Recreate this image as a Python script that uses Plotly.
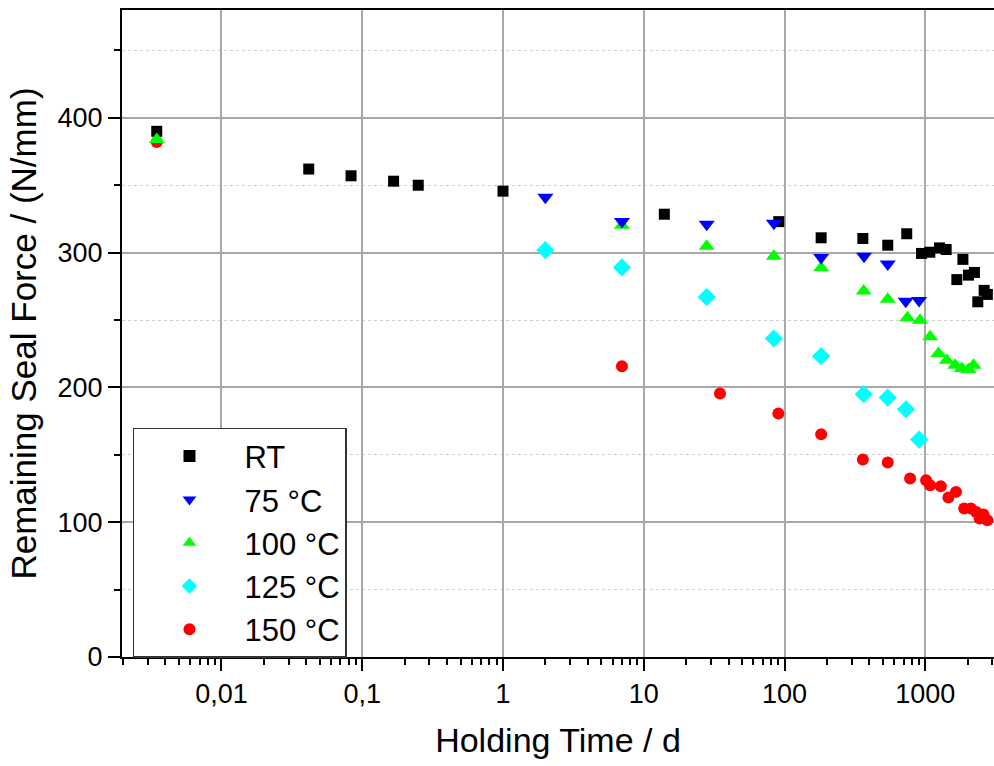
import plotly.graph_objects as go

# ---- data (holding time in days, remaining seal force in N/mm) ----
rt_t = [0.00347, 0.0417, 0.0833, 0.167, 0.25, 1, 14, 91, 182, 360, 541, 738,
        940, 1077, 1262, 1406, 1675, 1850, 2026, 2234, 2360, 2618, 2760]
rt_f = [390, 362, 357, 353, 350, 345.6, 328.5, 323, 311, 310.5, 305.5, 314,
        299.4, 300.3, 303.5, 302.3, 280, 295, 283.3, 285.3, 263.5, 272, 269]

t75_t = [2, 7, 28, 84, 182, 367, 541, 726, 903]
t75_f = [341, 323, 321, 321.8, 296.4, 297.4, 291.5, 264, 264.5]

t100_t = [0.00347, 7, 28, 84, 182, 365, 541, 747, 918, 1082, 1240, 1422, 1630,
          1816, 2025, 2200]
t100_f = [384, 320.4, 304.8, 297.4, 288.7, 271.6, 265.5, 251.6, 249.9, 237.5,
          225.2, 220.2, 216.5, 214, 213.3, 216.5]

t125_t = [2, 7, 28, 84, 182, 365, 541, 730, 903]
t125_f = [301.8, 289, 267, 236.3, 223.2, 195, 192.5, 183.8, 161.3]

t150_t = [0.00347, 7, 34.8, 90.4, 182, 360, 541, 780, 1013, 1082, 1288, 1459,
          1652, 1889, 2105, 2295, 2432, 2590, 2760]
t150_f = [382, 215.7, 195.5, 180.6, 165.3, 146.5, 144.3, 132.4, 131.1, 127.4,
          126.7, 118.3, 122.5, 110.1, 110.1, 107.6, 102.7, 105.7, 101.4]

series_names = ["RT", "75 °C", "100 °C", "125 °C", "150 °C"]
x_tickvals = [0.01, 0.1, 1, 10, 100, 1000]
x_ticktext = ["0,01", "0,1", "1", "10", "100", "1000"]
y_tickvals = [0, 100, 200, 300, 400]

FONT = "Arial, 'Liberation Sans', sans-serif"

fig = go.Figure()

specs = [
    (rt_t, rt_f, series_names[0], "square", "#000000", 11, 1),
    (t150_t, t150_f, series_names[4], "circle", "#ff0000", 12, 5),
    (t125_t, t125_f, series_names[3], "diamond", "#00ffff", 14, 4),
    (t100_t, t100_f, series_names[2], "triangle-up", "#00ff00", 14, 3),
    (t75_t, t75_f, series_names[1], "triangle-down", "#0000ff", 14, 2),
]
for xs, ys, name, sym, col, size, rank in specs:
    fig.add_trace(go.Scatter(
        x=xs, y=ys, mode="markers", name=name, legendrank=rank,
        marker=dict(symbol=sym, color=col, size=size, line=dict(width=0)),
    ))

minor_x = [k * 10.0 ** n for n in range(-3, 4) for k in range(2, 10)]

fig.update_layout(
    width=994, height=766,
    margin=dict(l=122, r=0, t=10, b=109),
    paper_bgcolor="white", plot_bgcolor="white",
    font=dict(family=FONT, color="black", size=27),
    showlegend=True,
    legend=dict(
        x=0.0126, y=0.354, xanchor="left", yanchor="top",
        bgcolor="white", bordercolor="#333333", borderwidth=1.5,
        font=dict(family=FONT, size=31, color="black"),
        itemsizing="constant", tracegroupgap=0, itemwidth=100,
    ),
    xaxis=dict(
        type="log", range=[-2.7065, 3.488], automargin=False,
        tickmode="array", tickvals=x_tickvals, ticktext=x_ticktext,
        ticks="outside", ticklen=12, tickwidth=2, tickcolor="black",
        showline=True, linecolor="black", linewidth=2, mirror=True,
        showgrid=True, gridcolor="#a8a8a8", gridwidth=1.5,
        zeroline=False,
        tickfont=dict(size=27),
        minor=dict(tickmode="array", tickvals=minor_x, ticks="outside",
                   ticklen=6, tickwidth=2, tickcolor="black", showgrid=False),
        title=dict(text="Holding Time / d", font=dict(size=34), standoff=20),
    ),
    yaxis=dict(
        range=[0, 480], automargin=False,
        tickmode="array", tickvals=y_tickvals,
        ticks="outside", ticklen=12, tickwidth=2, tickcolor="black",
        showline=True, linecolor="black", linewidth=2, mirror=False,
        showgrid=True, gridcolor="#a8a8a8", gridwidth=1.5,
        zeroline=False,
        tickfont=dict(size=27),
        minor=dict(dtick=50, ticks="outside", ticklen=6, tickwidth=2,
                   tickcolor="black", showgrid=True, gridcolor="#cfcfcf",
                   griddash="dot", gridwidth=1.2),
        title=dict(text="Remaining Seal Force / (N/mm)", font=dict(size=35),
                   standoff=10),
    ),
)

fig.write_html(
    "out.html",
    config={"displayModeBar": False},
    post_script="document.body.style.margin='0px';"
                "document.body.style.overflow='hidden';",
)
